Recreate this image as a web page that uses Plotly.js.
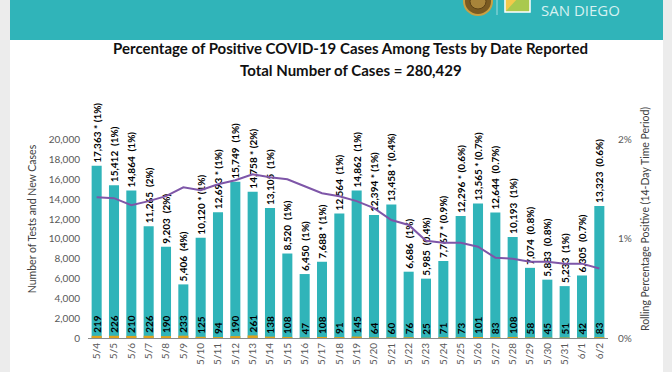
<!DOCTYPE html>
<html>
<head>
<meta charset="utf-8">
<script src="https://cdn.plot.ly/plotly-3.0.1.min.js"></script>
<style>
  html, body { margin: 0; padding: 0; background: #ffffff; }
  #chart { width: 672px; height: 372px; }
</style>
</head>
<body>
<div id="chart"></div>
<script>
// ---- Data ----
const dates = ['5/4','5/5','5/6','5/7','5/8','5/9','5/10','5/11','5/12','5/13','5/14','5/15','5/16','5/17','5/18','5/19','5/20','5/21','5/22','5/23','5/24','5/25','5/26','5/27','5/28','5/29','5/30','5/31','6/1','6/2'];
const tests = [17363,15412,14864,11265,9203,5406,10120,12693,15749,14758,13105,8520,6450,7688,12564,14862,12394,13458,6686,5985,7767,12296,13565,12644,10193,7074,5883,5233,6305,13323];
const newCases = [219,226,210,226,190,233,125,94,190,261,138,108,47,108,91,145,64,60,76,25,71,73,101,83,108,58,45,51,42,83];
const dailyPct = ['1%','1%','1%','2%','2%','4%','1%','1%','1%','2%','1%','1%','1%','1%','1%','1%','1%','0.4%','1%','0.4%','0.9%','0.6%','0.7%','0.7%','1%','0.8%','0.8%','1%','0.7%','0.6%'];
const starred = [true,false,false,false,false,false,true,true,false,true,false,false,false,true,false,false,true,true,false,false,true,true,true,false,false,false,false,false,false,false];
const rollingPct = [1.42,1.41,1.34,1.38,1.43,1.52,1.49,1.55,1.59,1.65,1.62,1.60,1.53,1.46,1.43,1.38,1.31,1.19,1.14,0.98,0.96,0.96,0.92,0.81,0.80,0.77,0.77,0.75,0.75,0.70];
const y2TickVals = [0, 1, 2];
const y2TickText = ['0%', '1%', '2%'];
const chartTitle = 'Percentage of Positive COVID-19 Cases Among Tests by Date Reported';
const chartSubtitle = 'Total Number of Cases = 280,429';
const yTitle = 'Number of Tests and New Cases';
const y2Title = 'Rolling Percentage Positive (14-Day Time Period)';

// ---- Layout geometry ----
const W = 672, H = 372;
const M = { l: 88, r: 64, t: 100, b: 34 };
const PW = W - M.l - M.r, PH = H - M.t - M.b;
const px = x => (x - M.l) / PW;          // pixel -> paper x
const py = y => (H - M.b - y) / PH;      // pixel -> paper y

const FONT = 'Lato, "Open Sans", sans-serif';
const TEAL = '#30b4b9';

const testLabels = tests.map((v, i) =>
  v.toLocaleString('en-US') + (starred[i] ? ' * ' : '\u00a0\u00a0') + '(' + dailyPct[i] + ')');

const traces = [
  {
    type: 'bar', x: dates, y: tests, name: 'Tests',
    marker: { color: TEAL },
    text: testLabels, textposition: 'outside', textangle: -90,
    constraintext: 'none', cliponaxis: false,
    textfont: { family: FONT, size: 10, color: '#000000', weight: 'bold' },
    hoverinfo: 'skip'
  },
  {
    type: 'bar', x: dates, y: newCases, name: 'New Cases',
    marker: { color: '#e0a21e' },
    text: newCases.map(String), textposition: 'outside', textangle: -90,
    constraintext: 'none', cliponaxis: false,
    textfont: { family: FONT, size: 10, color: '#000000', weight: 'bold' },
    hoverinfo: 'skip'
  },
  {
    type: 'scatter', mode: 'lines', x: dates, y: rollingPct, yaxis: 'y2',
    name: 'Rolling % Positive',
    line: { color: '#7e56a8', width: 2 },
    hoverinfo: 'skip'
  }
];

const shapes = [
  // side margins of the page
  { type: 'rect', xref: 'paper', yref: 'paper', x0: px(-5), x1: px(10), y0: py(H + 5), y1: py(-5),
    fillcolor: '#ececec', line: { width: 0 }, layer: 'below' },
  { type: 'rect', xref: 'paper', yref: 'paper', x0: px(663), x1: px(W + 5), y0: py(H + 5), y1: py(-5),
    fillcolor: '#ececec', line: { width: 0 }, layer: 'below' },
  // teal header band
  { type: 'rect', xref: 'paper', yref: 'paper', x0: px(10), x1: px(663), y0: py(40), y1: py(-5),
    fillcolor: TEAL, line: { width: 0 }, layer: 'below' },
  // seal
  { type: 'circle', xref: 'paper', yref: 'paper', x0: px(464), x1: px(492), y0: py(15), y1: py(-12),
    fillcolor: '#7a5a22', line: { color: '#c9a043', width: 2 }, layer: 'below' },
  { type: 'circle', xref: 'paper', yref: 'paper', x0: px(470), x1: px(486), y0: py(9), y1: py(-6),
    fillcolor: '#a8843a', line: { color: '#5e4316', width: 1 }, layer: 'below' },
  // divider
  { type: 'line', xref: 'paper', yref: 'paper', x0: px(497), x1: px(497), y0: py(15), y1: py(-2),
    line: { color: 'rgba(255,255,255,0.55)', width: 1 }, layer: 'below' },
  // square logo
  { type: 'rect', xref: 'paper', yref: 'paper', x0: px(505), x1: px(530), y0: py(12), y1: py(-3),
    fillcolor: '#a9c94e', line: { color: '#ffffff', width: 1.5 }, layer: 'below' },
  { type: 'path', xref: 'paper', yref: 'paper',
    path: `M ${px(506)} ${py(11)} L ${px(506)} ${py(-2)} L ${px(518)} ${py(-2)} Z`,
    fillcolor: '#f2c94c', line: { width: 0 }, layer: 'below' }
];

const layout = {
  width: W, height: H,
  margin: M,
  paper_bgcolor: '#ffffff', plot_bgcolor: 'rgba(0,0,0,0)',
  font: { family: FONT, color: '#595959' },
  showlegend: false,
  barmode: 'overlay',
  bargap: 0.42,
  hovermode: false,
  title: {
    text: chartTitle,
    font: { family: FONT, size: 15, color: '#111111', weight: 'bold' },
    x: px(350.5), xref: 'paper', xanchor: 'center',
    y: 1 - 49 / H, yref: 'container', yanchor: 'middle'
  },
  annotations: [
    { text: chartSubtitle, xref: 'paper', yref: 'paper', x: px(351), y: py(69.5),
      xanchor: 'center', yanchor: 'middle', showarrow: false,
      font: { family: FONT, size: 15, color: '#111111', weight: 'bold' } },
    { text: 'SAN DIEGO', xref: 'paper', yref: 'paper', x: px(580), y: py(9.5),
      xanchor: 'center', yanchor: 'middle', showarrow: false,
      font: { family: '"Open Sans", sans-serif', size: 15, color: '#d6f1f1' } }
  ],
  shapes: shapes,
  xaxis: {
    type: 'category',
    tickangle: -90,
    tickfont: { family: FONT, size: 10, color: '#595959' },
    showline: true, linecolor: '#8a8a8a', linewidth: 1,
    ticks: '', showgrid: false, zeroline: false,
    automargin: false
  },
  yaxis: {
    range: [0, 24000],
    tickvals: [0,2000,4000,6000,8000,10000,12000,14000,16000,18000,20000],
    tickformat: ',d',
    tickfont: { family: FONT, size: 10, color: '#595959' },
    ticks: 'outside', ticklen: 5, tickcolor: 'rgba(0,0,0,0)',
    showgrid: false, zeroline: false, showline: false,
    title: { text: yTitle, font: { family: FONT, size: 10.5, color: '#404040' }, standoff: 10 },
    automargin: false
  },
  yaxis2: {
    overlaying: 'y', side: 'right',
    range: [0, 2.4],
    tickmode: 'array', tickvals: y2TickVals, ticktext: y2TickText,
    tickfont: { family: FONT, size: 10, color: '#595959' },
    ticks: 'outside', ticklen: 7, tickcolor: 'rgba(0,0,0,0)',
    showgrid: false, zeroline: false, showline: false,
    title: { text: y2Title, font: { family: FONT, size: 10.5, color: '#404040' }, standoff: 10 },
    automargin: false
  }
};

Plotly.newPlot('chart', traces, layout, { displayModeBar: false, staticPlot: true });
</script>
</body>
</html>
